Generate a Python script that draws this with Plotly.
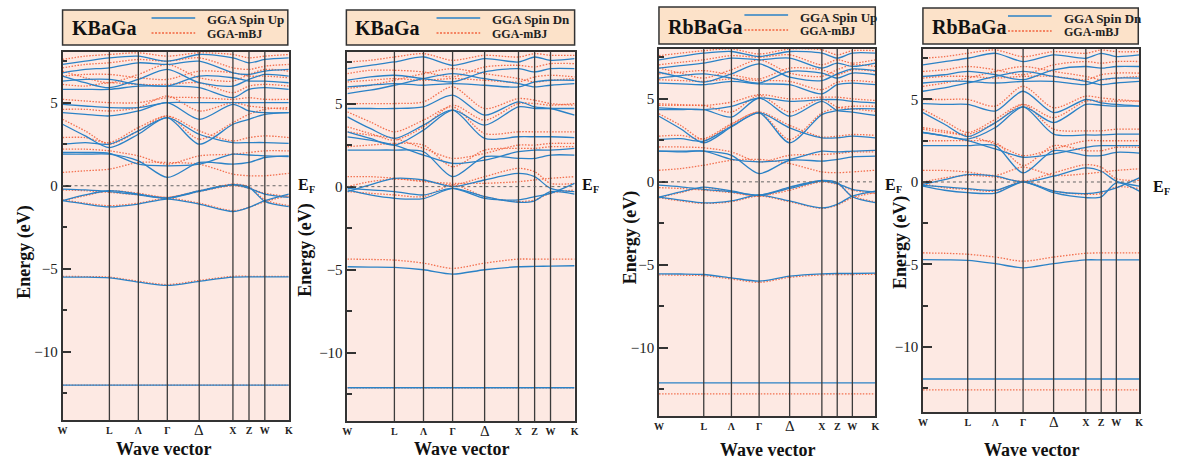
import plotly.graph_objects as go

# ---------------- data ----------------
# k-path sample positions: W, (W-L), L, Λ, Γ, Δ, X, Z, W, K
K_POS = [0.0, 0.10, 0.207, 0.335, 0.463, 0.604, 0.753, 0.824, 0.894, 1.0]
SYM_POS = [0.0, 0.207, 0.335, 0.463, 0.604, 0.753, 0.824, 0.894, 1.0]
SYM_LABELS = ["W", "L", "Λ", "Γ", "Δ", "X", "Z", "W", "K"]
Y_TICKS = [-10, -5, 0, 5]

KBAGA_UP_GGA = [
    [-12.0, -12.0, -12.0, -12.0, -12.0, -12.0, -12.0, -12.0, -12.0, -12.0],
    [-5.5, -5.5, -5.55, -5.8, -6.0, -5.75, -5.5, -5.48, -5.48, -5.48],
    [-0.9, -1.1, -1.27, -1.1, -0.8, -1.1, -1.55, -1.3, -0.9, -0.5],
    [-0.9, -0.55, -0.3, -0.5, -0.74, -0.34, 0.06, -0.1, -0.94, -1.26],
    [-0.2, -0.25, -0.35, -0.55, -0.75, -0.3, 0.05, -0.15, -0.5, -0.7],
    [1.9, 1.9, 1.9, 1.5, 0.5, 1.4, 1.3, 1.4, 1.7, 1.8],
    [2.0, 2.0, 1.95, 1.3, 1.2, 1.3, 1.9, 1.85, 1.8, 1.75],
    [2.5, 2.6, 2.5, 3.3, 4.1, 3.1, 2.6, 2.6, 2.6, 2.55],
    [3.7, 3.0, 2.3, 3.1, 4.1, 2.5, 3.7, 4.0, 4.3, 4.4],
    [4.4, 4.3, 4.2, 4.5, 5.0, 4.0, 4.9, 4.5, 4.4, 4.4],
    [4.9, 4.8, 4.7, 4.7, 5.0, 5.0, 5.0, 5.0, 5.0, 5.0],
    [5.8, 5.8, 5.8, 6.0, 6.0, 5.9, 5.3, 5.8, 5.9, 5.8],
    [6.3, 6.4, 6.4, 6.1, 6.0, 6.6, 6.5, 6.3, 6.3, 6.2],
    [6.6, 6.2, 5.9, 6.4, 7.0, 6.2, 6.0, 6.4, 6.7, 6.6],
    [6.8, 7.0, 7.1, 7.4, 7.3, 7.5, 6.8, 6.7, 6.9, 7.0],
    [7.3, 7.5, 7.7, 7.8, 7.5, 7.9, 7.7, 7.4, 7.6, 7.7],
]
KBAGA_UP_MBJ = [
    [-12.0, -12.0, -12.0, -12.0, -12.0, -12.0, -12.0, -12.0, -12.0, -12.0],
    [-5.45, -5.47, -5.5, -5.75, -5.95, -5.7, -5.45, -5.45, -5.45, -5.45],
    [-0.85, -1.05, -1.2, -1.05, -0.75, -1.05, -1.5, -1.3, -0.95, -0.6],
    [-0.9, -0.6, -0.3, -0.45, -0.7, -0.3, 0.1, -0.05, -0.85, -1.2],
    [-0.25, -0.3, -0.4, -0.55, -0.7, -0.35, 0.0, -0.15, -0.45, -0.65],
    [2.2, 2.2, 2.1, 1.8, 1.3, 1.8, 1.9, 2.0, 2.1, 2.1],
    [0.8, 0.9, 1.0, 1.4, 1.4, 1.3, 0.7, 0.6, 0.6, 0.75],
    [2.9, 2.9, 2.6, 3.5, 4.2, 3.3, 2.7, 2.9, 3.0, 2.9],
    [4.0, 3.3, 2.5, 3.3, 4.2, 2.8, 3.8, 4.3, 4.6, 4.7],
    [4.6, 4.6, 4.5, 4.7, 5.4, 4.5, 5.0, 4.8, 4.7, 4.6],
    [5.2, 5.1, 5.0, 5.0, 5.3, 5.3, 5.2, 5.3, 5.2, 5.2],
    [6.1, 6.0, 6.2, 6.1, 6.1, 6.2, 5.6, 6.0, 6.1, 6.0],
    [6.6, 6.7, 6.7, 6.5, 6.4, 6.9, 6.8, 6.6, 6.6, 6.5],
    [6.9, 6.5, 6.2, 6.7, 7.3, 6.5, 6.3, 6.7, 7.0, 6.9],
    [7.1, 7.3, 7.4, 7.6, 7.5, 7.7, 7.1, 7.0, 7.2, 7.3],
    [7.6, 7.8, 7.9, 8.0, 7.8, 8.0, 7.9, 7.7, 7.8, 7.9],
]

KBAGA_DN_GGA = [
    [-12.1, -12.1, -12.1, -12.1, -12.1, -12.1, -12.1, -12.1, -12.1, -12.1],
    [-4.82, -4.84, -4.86, -5.0, -5.26, -5.0, -4.82, -4.8, -4.78, -4.76],
    [-0.2, -0.5, -0.7, -0.72, -0.1, -0.6, -0.94, -0.85, -0.3, -0.45],
    [-0.3, 0.1, 0.5, 0.4, 0.0, 0.4, 0.8, 0.6, -0.1, -0.3],
    [-0.1, -0.2, -0.3, -0.5, -0.1, -0.7, -0.8, -0.6, -0.4, 0.2],
    [2.2, 2.2, 2.2, 2.1, 0.6, 1.8, 1.7, 1.7, 1.9, 1.9],
    [3.0, 2.8, 2.5, 1.9, 1.4, 1.6, 2.1, 2.2, 2.2, 2.3],
    [4.2, 3.5, 2.9, 3.7, 4.6, 2.9, 3.0, 3.0, 3.0, 2.95],
    [3.3, 2.9, 2.5, 3.4, 4.6, 3.7, 4.8, 4.7, 4.7, 4.7],
    [4.7, 4.7, 4.7, 4.8, 5.5, 4.3, 5.1, 4.8, 4.7, 4.3],
    [6.0, 6.1, 6.2, 6.1, 6.2, 6.1, 6.0, 6.3, 6.4, 6.4],
    [5.6, 5.8, 6.1, 6.5, 6.8, 6.5, 6.2, 6.0, 6.1, 6.2],
    [6.4, 6.6, 6.7, 6.5, 6.3, 6.9, 7.1, 6.9, 7.1, 7.1],
    [7.1, 7.3, 7.5, 7.8, 7.3, 7.7, 7.5, 7.8, 7.6, 7.7],
]
KBAGA_DN_MBJ = [
    [-12.1, -12.1, -12.1, -12.1, -12.1, -12.1, -12.1, -12.1, -12.1, -12.1],
    [-4.36, -4.38, -4.42, -4.6, -4.92, -4.6, -4.36, -4.36, -4.36, -4.36],
    [-0.3, -0.4, -0.5, -0.6, 0.1, -0.6, -0.9, -0.8, -0.4, -0.2],
    [0.0, 0.3, 0.45, 0.35, 0.1, 0.6, 1.1, 0.9, 0.2, 0.2],
    [0.6, 0.6, 0.5, 0.3, 0.2, 0.2, 0.3, 0.4, 0.5, 0.6],
    [2.4, 2.5, 2.6, 2.5, 1.2, 2.2, 2.3, 2.3, 2.4, 2.4],
    [3.3, 3.1, 2.9, 2.3, 1.7, 2.0, 2.5, 2.5, 2.6, 2.6],
    [4.5, 3.9, 3.3, 4.0, 4.8, 3.2, 3.3, 3.3, 3.3, 3.3],
    [3.6, 3.2, 2.8, 3.6, 4.9, 4.0, 5.0, 5.0, 4.9, 5.0],
    [5.0, 5.0, 5.0, 5.1, 6.0, 4.7, 5.3, 5.2, 5.0, 4.9],
    [6.3, 6.4, 6.5, 6.4, 6.5, 6.4, 6.3, 6.6, 6.7, 6.6],
    [5.9, 6.1, 6.4, 6.8, 7.1, 6.8, 6.5, 6.3, 6.4, 6.5],
    [6.8, 7.0, 7.0, 6.9, 6.6, 7.2, 7.3, 7.2, 7.4, 7.4],
    [7.5, 7.6, 7.8, 8.0, 7.6, 7.9, 7.8, 8.0, 7.9, 7.9],
]

RBBAGA_UP_GGA = [
    [-12.1, -12.1, -12.1, -12.1, -12.1, -12.1, -12.1, -12.1, -12.1, -12.1],
    [-5.54, -5.55, -5.58, -5.78, -5.98, -5.68, -5.54, -5.52, -5.52, -5.5],
    [-0.92, -1.1, -1.27, -1.15, -0.8, -1.15, -1.57, -1.35, -0.86, -0.56],
    [-0.92, -0.6, -0.32, -0.55, -0.8, -0.32, 0.08, -0.05, -0.9, -1.25],
    [-0.2, -0.3, -0.45, -0.6, -0.8, -0.4, 0.05, -0.1, -0.45, -0.6],
    [1.85, 1.85, 1.85, 1.6, 0.5, 1.3, 1.25, 1.35, 1.5, 1.55],
    [1.85, 1.8, 1.85, 1.35, 1.2, 1.35, 1.85, 1.8, 1.85, 1.9],
    [2.55, 2.6, 2.45, 3.35, 4.15, 3.25, 2.65, 2.65, 2.75, 2.65],
    [3.95, 3.2, 2.35, 3.3, 4.15, 2.35, 4.05, 4.3, 4.4, 4.4],
    [4.35, 4.35, 4.35, 3.9, 5.05, 3.95, 4.85, 4.3, 4.2, 4.0],
    [4.45, 4.4, 4.35, 4.55, 5.05, 4.85, 4.95, 4.95, 4.85, 4.75],
    [5.95, 5.9, 5.85, 6.05, 5.9, 5.85, 5.3, 5.85, 5.95, 5.85],
    [6.25, 6.4, 6.5, 6.25, 5.95, 6.65, 6.55, 6.25, 6.55, 6.45],
    [6.6, 6.3, 6.0, 6.5, 7.1, 6.3, 6.1, 6.5, 6.8, 6.7],
    [6.85, 7.0, 7.15, 7.45, 7.35, 7.45, 6.85, 7.15, 6.95, 7.15],
    [7.35, 7.55, 7.75, 7.85, 7.55, 7.85, 7.75, 7.45, 7.75, 7.75],
]
RBBAGA_UP_MBJ = [
    [-12.77, -12.77, -12.77, -12.77, -12.77, -12.77, -12.77, -12.77, -12.77, -12.77],
    [-5.6, -5.62, -5.65, -5.85, -6.05, -5.75, -5.6, -5.58, -5.58, -5.56],
    [-0.95, -1.15, -1.3, -1.2, -0.85, -1.2, -1.6, -1.4, -0.95, -0.65],
    [-0.95, -0.65, -0.35, -0.6, -0.85, -0.35, 0.05, -0.1, -0.85, -1.2],
    [-0.35, -0.4, -0.5, -0.65, -0.85, -0.5, 0.0, -0.15, -0.5, -0.7],
    [2.1, 2.1, 2.05, 1.8, 1.2, 1.6, 1.65, 1.7, 1.8, 1.8],
    [0.7, 0.8, 1.0, 1.3, 1.35, 1.1, 0.6, 0.55, 0.6, 0.7],
    [2.75, 2.8, 2.6, 3.5, 4.2, 3.4, 2.7, 2.75, 2.85, 2.8],
    [4.1, 3.4, 2.55, 3.45, 4.2, 2.55, 4.15, 4.45, 4.55, 4.55],
    [4.6, 4.6, 4.6, 4.2, 5.2, 4.2, 5.0, 4.5, 4.4, 4.25],
    [4.7, 4.65, 4.6, 4.8, 5.25, 5.0, 5.1, 5.1, 5.0, 4.9],
    [6.15, 6.1, 6.05, 6.2, 6.1, 6.05, 5.55, 6.0, 6.1, 6.0],
    [6.5, 6.6, 6.7, 6.45, 6.2, 6.85, 6.75, 6.45, 6.75, 6.65],
    [6.85, 6.55, 6.25, 6.75, 7.35, 6.55, 6.35, 6.75, 7.05, 6.95],
    [7.05, 7.2, 7.35, 7.6, 7.5, 7.65, 7.05, 7.35, 7.15, 7.35],
    [7.6, 7.75, 7.9, 8.0, 7.7, 8.0, 7.95, 7.65, 7.9, 7.9],
]

RBBAGA_DN_GGA = [
    [-11.94, -11.94, -11.94, -11.94, -11.94, -11.94, -11.94, -11.94, -11.94, -11.94],
    [-4.7, -4.72, -4.75, -4.95, -5.2, -4.95, -4.72, -4.72, -4.72, -4.72],
    [-0.25, -0.5, -0.65, -0.68, 0.0, -0.65, -0.95, -0.9, -0.05, -0.55],
    [-0.15, 0.15, 0.45, 0.35, 0.0, 0.35, 0.85, 0.65, 0.05, -0.25],
    [-0.2, -0.3, -0.4, -0.5, 0.0, -0.55, -0.7, -0.6, -0.35, 0.25],
    [2.2, 2.2, 2.2, 2.2, 0.55, 1.9, 1.6, 1.6, 1.8, 1.75],
    [3.0, 2.8, 2.5, 2.0, 1.5, 1.7, 2.1, 2.2, 2.2, 2.2],
    [4.2, 3.5, 2.75, 3.6, 4.55, 2.9, 2.85, 2.85, 2.9, 2.9],
    [3.0, 2.8, 2.6, 3.3, 4.55, 3.6, 4.7, 4.65, 4.6, 4.6],
    [4.75, 4.7, 4.7, 4.3, 5.5, 4.2, 5.0, 4.8, 4.7, 4.6],
    [6.0, 6.1, 6.1, 6.0, 6.1, 6.1, 5.9, 6.2, 6.3, 6.3],
    [5.5, 5.7, 6.0, 6.4, 6.7, 6.4, 6.1, 5.9, 6.0, 6.1],
    [6.4, 6.5, 6.7, 6.5, 6.2, 6.8, 7.0, 6.9, 7.0, 7.0],
    [7.1, 7.3, 7.5, 7.8, 7.3, 7.7, 7.5, 7.8, 7.6, 7.7],
]
RBBAGA_DN_MBJ = [
    [-12.6, -12.6, -12.6, -12.6, -12.6, -12.6, -12.6, -12.6, -12.6, -12.6],
    [-4.3, -4.32, -4.38, -4.55, -4.8, -4.55, -4.32, -4.3, -4.3, -4.3],
    [-0.1, -0.35, -0.45, -0.55, 0.05, -0.55, -0.75, -0.7, -0.3, -0.4],
    [0.0, 0.25, 0.4, 0.3, 0.05, 0.55, 1.05, 0.9, 0.2, 0.1],
    [0.7, 0.7, 0.6, 0.4, 0.9, 0.4, 0.5, 0.6, 0.7, 0.8],
    [2.5, 2.5, 2.5, 2.4, 1.0, 2.2, 1.9, 1.9, 2.1, 2.1],
    [3.2, 3.0, 2.8, 2.3, 1.6, 2.0, 2.5, 2.5, 2.5, 2.5],
    [4.4, 3.7, 3.0, 3.8, 4.7, 3.2, 3.1, 3.1, 3.2, 3.2],
    [3.3, 3.1, 2.9, 3.6, 4.7, 3.9, 4.9, 4.9, 4.9, 4.9],
    [5.0, 5.0, 5.0, 4.6, 5.8, 4.5, 5.2, 5.1, 5.0, 4.9],
    [6.3, 6.4, 6.4, 6.3, 6.4, 6.4, 6.2, 6.5, 6.6, 6.6],
    [5.8, 6.0, 6.3, 6.7, 7.0, 6.7, 6.4, 6.2, 6.3, 6.4],
    [6.7, 6.8, 7.0, 6.8, 6.5, 7.1, 7.3, 7.2, 7.3, 7.3],
    [7.5, 7.6, 7.8, 8.0, 7.6, 7.9, 7.8, 8.0, 7.9, 7.9],
]

# ---------------- layout config ----------------
W, H = 1178, 462
SERIF = "Liberation Serif, Times New Roman, serif"
BLUE = "#2b82c6"
RED = "#f2643f"
PLOT_BG = "#fde9e3"
BOX_BG = "#fce2c9"


def fx(px):
    return px / W


def fy(py):
    return 1 - py / H


panels = [
    dict(compound="KBaGa", spin="Spin Up", gga=KBAGA_UP_GGA, mbj=KBAGA_UP_MBJ,
         px=(58, 286), py=(52, 420), yr=(-14.1, 8.05),
         box=(58, 10, 285, 45), ef=(304, 186), ytitle=(20, 252), xtitle=(160, 449)),
    dict(compound="KBaGa", spin="Spin Dn", gga=KBAGA_DN_GGA, mbj=KBAGA_DN_MBJ,
         px=(345, 574), py=(52, 421), yr=(-14.1, 8.1),
         box=(344, 10, 574, 45), ef=(591, 186), ytitle=(302, 250), xtitle=(460, 449)),
    dict(compound="RbBaGa", spin="Spin Up", gga=RBBAGA_UP_GGA, mbj=RBBAGA_UP_MBJ,
         px=(659, 877), py=(49, 416), yr=(-14.1, 8.0),
         box=(659, 7, 877, 44), ef=(896, 185), ytitle=(630, 238), xtitle=(768, 450)),
    dict(compound="RbBaGa", spin="Spin Dn", gga=RBBAGA_DN_GGA, mbj=RBBAGA_DN_MBJ,
         px=(925, 1143), py=(49, 412), yr=(-13.94, 8.06),
         box=(925, 8, 1142, 44), ef=(1166, 187), ytitle=(902, 243), xtitle=(1034, 450)),
]

fig = go.Figure()
shapes = []
annotations = []

tick_text = []
for lab in SYM_LABELS:
    tick_text.append(" " if lab == "Δ" else "<b>" + lab + "</b>")

for i, p in enumerate(panels):
    n = "" if i == 0 else str(i + 1)
    xa, ya = "x" + n, "y" + n
    for band in p["mbj"]:
        fig.add_trace(go.Scatter(x=K_POS, y=band, mode="lines", xaxis=xa, yaxis=ya,
                                 line=dict(color=RED, width=1.3, dash="1.5px,1.5px",
                                           shape="spline", smoothing=0.8),
                                 opacity=0.9, showlegend=False, hoverinfo="skip"))
    for band in p["gga"]:
        fig.add_trace(go.Scatter(x=K_POS, y=band, mode="lines", xaxis=xa, yaxis=ya,
                                 line=dict(color=BLUE, width=1.3, shape="spline", smoothing=0.8),
                                 showlegend=False, hoverinfo="skip"))

    x0, x1 = p["px"]
    y0, y1 = p["py"]
    fig.layout["xaxis" + n] = dict(
        domain=[fx(x0), fx(x1)], range=[0, 1], anchor=ya,
        tickvals=SYM_POS, ticktext=tick_text, ticks="",
        tickfont=dict(family=SERIF, size=10, color="#222"),
        showline=True, linecolor="#333", linewidth=1.5, mirror=True,
        showgrid=False, zeroline=False, fixedrange=True,
    )
    fig.layout["yaxis" + n] = dict(
        domain=[fy(y1), fy(y0)], range=list(p["yr"]), anchor=xa,
        tickvals=Y_TICKS, ticks="inside", ticklen=9, tickwidth=2, tickcolor="#333",
        minor=dict(tickvals=[-12.5, -7.5, -2.5, 2.5, 7.5], ticks="inside", ticklen=5,
                   tickwidth=2, tickcolor="#333"),
        tickfont=dict(family=SERIF, size=15, color="#222"),
        showline=True, linecolor="#333", linewidth=1.5, mirror=True,
        showgrid=False, zeroline=False, fixedrange=True,
    )

    # vertical high-symmetry lines
    for s in SYM_POS[1:-1]:
        shapes.append(dict(type="line", xref=xa, yref=ya + " domain", x0=s, x1=s, y0=0, y1=1,
                           line=dict(color="#3c3c3c", width=1.3), layer="above"))
    # Fermi level
    shapes.append(dict(type="line", xref=xa + " domain", yref=ya, x0=0, x1=1, y0=0, y1=0,
                       line=dict(color="#666", width=1, dash="dot"), layer="above"))
    # plot background
    shapes.append(dict(type="rect", xref=xa + " domain", yref=ya + " domain", x0=0, x1=1, y0=0, y1=1,
                       fillcolor=PLOT_BG, line=dict(width=0), layer="below"))

    # Δ label (larger, not bold) under its k-point
    dpx = x0 + SYM_POS[4] * (x1 - x0)
    annotations.append(dict(xref="paper", yref="paper", x=fx(dpx), y=fy(y1 + 10),
                            xanchor="center", yanchor="middle", showarrow=False,
                            text="Δ", font=dict(family=SERIF, size=15, color="#222")))

    # legend box
    bx0, by0, bx1, by1 = p["box"]
    shapes.append(dict(type="rect", xref="paper", yref="paper",
                       x0=fx(bx0), x1=fx(bx1), y0=fy(by1), y1=fy(by0),
                       fillcolor=BOX_BG, line=dict(color="#333", width=1.5)))
    lx0 = bx0 + (bx1 - bx0) * 0.395
    lx1 = lx0 + 44
    shapes.append(dict(type="line", xref="paper", yref="paper",
                       x0=fx(lx0), x1=fx(lx1), y0=fy(by0 + 8), y1=fy(by0 + 8),
                       line=dict(color=BLUE, width=1.6)))
    shapes.append(dict(type="line", xref="paper", yref="paper",
                       x0=fx(lx0), x1=fx(lx1), y0=fy(by0 + 23), y1=fy(by0 + 23),
                       line=dict(color=RED, width=1.4, dash="2px,1.5px")))
    annotations.append(dict(xref="paper", yref="paper", x=fx(bx0 + 7), y=fy((by0 + by1) / 2 + 1),
                            xanchor="left", yanchor="middle", showarrow=False,
                            text="<b>" + p["compound"] + "</b>",
                            font=dict(family=SERIF, size=20, color="#111")))
    tx = lx1 + 10
    annotations.append(dict(xref="paper", yref="paper", x=fx(tx), y=fy(by0 + 10),
                            xanchor="left", yanchor="middle", showarrow=False,
                            text="<b>GGA " + p["spin"] + "</b>",
                            font=dict(family=SERIF, size=13, color="#222")))
    annotations.append(dict(xref="paper", yref="paper", x=fx(tx), y=fy(by0 + 24),
                            xanchor="left", yanchor="middle", showarrow=False,
                            text="<b>GGA-mBJ</b>",
                            font=dict(family=SERIF, size=12, color="#222")))
    # axis titles
    annotations.append(dict(xref="paper", yref="paper", x=fx(p["ytitle"][0]), y=fy(p["ytitle"][1]),
                            xanchor="center", yanchor="middle", showarrow=False, textangle=-90,
                            text="<b>Energy (eV)</b>",
                            font=dict(family=SERIF, size=18, color="#111")))
    annotations.append(dict(xref="paper", yref="paper", x=fx(p["xtitle"][0]), y=fy(p["xtitle"][1]),
                            xanchor="center", yanchor="middle", showarrow=False,
                            text="<b>Wave vector</b>",
                            font=dict(family=SERIF, size=18, color="#111")))
    # E_F label: "E" with a subscript "F"
    efx, efy = p["ef"]
    annotations.append(dict(xref="paper", yref="paper", x=fx(efx + 3), y=fy(efy - 1),
                            xanchor="right", yanchor="middle", showarrow=False, borderpad=0,
                            text="<b>E</b>", font=dict(family=SERIF, size=16, color="#111")))
    annotations.append(dict(xref="paper", yref="paper", x=fx(efx + 1), y=fy(efy + 4),
                            xanchor="left", yanchor="middle", showarrow=False, borderpad=0,
                            text="<b>F</b>", font=dict(family=SERIF, size=10, color="#111")))

fig.update_layout(
    width=W, height=H, margin=dict(l=0, r=0, t=0, b=0),
    paper_bgcolor="white", plot_bgcolor="rgba(0,0,0,0)",
    shapes=shapes, annotations=annotations, showlegend=False,
)

fig.write_html("out.html")
